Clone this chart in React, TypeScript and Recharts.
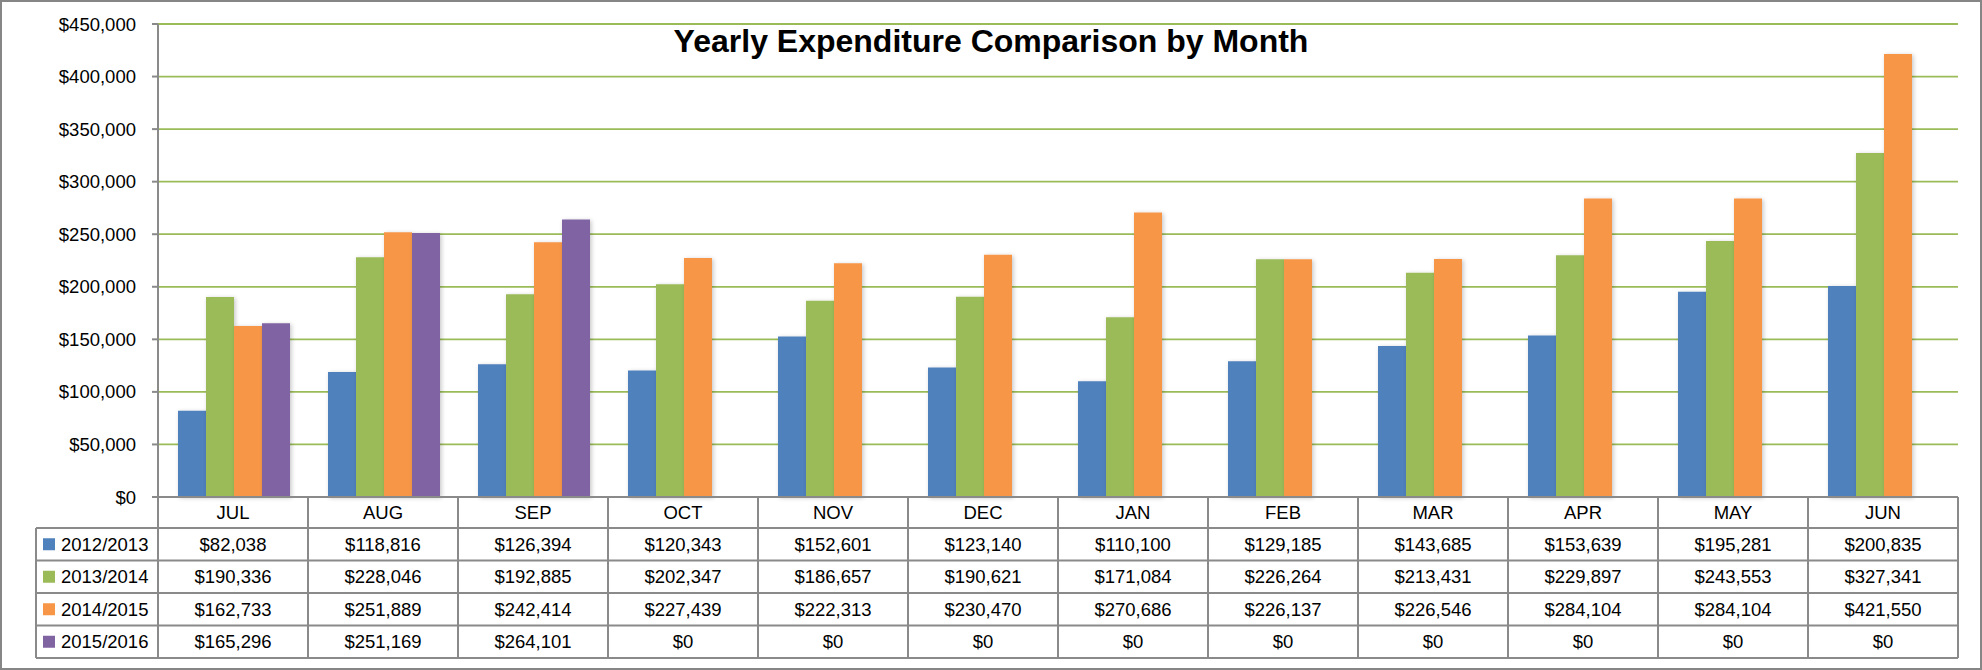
import React from "react";
import { BarChart, Bar, XAxis, YAxis, CartesianGrid } from "recharts";

// financial-year months and the four years being compared
const months = ["JUL", "AUG", "SEP", "OCT", "NOV", "DEC", "JAN", "FEB", "MAR", "APR", "MAY", "JUN"];
const seriesNames = ["2012/2013", "2013/2014", "2014/2015", "2015/2016"];
const seriesKeys = ["fy1213", "fy1314", "fy1415", "fy1516"];
const seriesColors = ["#4F81BD", "#9BBB59", "#F79646", "#8064A2"];

const fy1213 = [82038, 118816, 126394, 120343, 152601, 123140, 110100, 129185, 143685, 153639, 195281, 200835];
const fy1314 = [190336, 228046, 192885, 202347, 186657, 190621, 171084, 226264, 213431, 229897, 243553, 327341];
const fy1415 = [162733, 251889, 242414, 227439, 222313, 230470, 270686, 226137, 226546, 284104, 284104, 421550];
const fy1516 = [165296, 251169, 264101, 0, 0, 0, 0, 0, 0, 0, 0, 0];

const yTicks = [0, 50000, 100000, 150000, 200000, 250000, 300000, 350000, 400000, 450000];

const seriesValues = [fy1213, fy1314, fy1415, fy1516];
const data = months.map((month, i) => {
  const row: Record<string, string | number> = { month };
  seriesKeys.forEach((k, s) => (row[k] = seriesValues[s][i]));
  return row;
});

const WIDTH = 1982;
const HEIGHT = 670;
const PLOT_LEFT = 158;
const PLOT_RIGHT = 1958;
const X_AXIS_H = 173;
const COL_W = (PLOT_RIGHT - PLOT_LEFT) / months.length;
const CAT_ROW_H = 31;
const ROW_H = 32.5;
const LEGEND_W = 122;
const GRID = "#9BBB59";
const LINE = "#8a8a8a";
const FONT = "'Liberation Sans', Arial, sans-serif";
const FS = 18.5;

const money = (v: number) => "$" + v.toLocaleString("en-US");

// draws one column of the data table under each month tick
function TableColumn(props: any) {
  const { x, y, payload, index } = props;
  const half = COL_W / 2;
  const left = x - half;
  const right = x + half;
  const bodyTop = y + CAT_ROW_H;
  const bottom = bodyTop + ROW_H * seriesNames.length;
  const i = index as number;

  return (
    <g>
      <text x={x} y={y + CAT_ROW_H / 2} textAnchor="middle" dominantBaseline="central" fontSize={FS} fill="#000" fontFamily={FONT}>
        {payload.value}
      </text>
      {seriesNames.map((_, s) => (
        <g key={s}>
          <line x1={left} x2={right} y1={bodyTop + ROW_H * s} y2={bodyTop + ROW_H * s} stroke={LINE} strokeWidth={2} />
          <text x={x} y={bodyTop + ROW_H * (s + 0.5)} textAnchor="middle" dominantBaseline="central" fontSize={FS} fill="#000" fontFamily={FONT}>
            {money(seriesValues[s][i])}
          </text>
        </g>
      ))}
      <line x1={left} x2={right} y1={bottom} y2={bottom} stroke={LINE} strokeWidth={2} />
      <line x1={left} x2={left} y1={y} y2={bottom} stroke={LINE} strokeWidth={2} />
      <line x1={right} x2={right} y1={y} y2={bottom} stroke={LINE} strokeWidth={2} />
      {i === 0 && (
        <g>
          <line x1={left - LEGEND_W} x2={left - LEGEND_W} y1={bodyTop} y2={bottom} stroke={LINE} strokeWidth={2} />
          {seriesNames.map((name, s) => (
            <g key={name}>
              <line x1={left - LEGEND_W} x2={left} y1={bodyTop + ROW_H * s} y2={bodyTop + ROW_H * s} stroke={LINE} strokeWidth={2} />
              <rect x={left - LEGEND_W + 7} y={bodyTop + ROW_H * (s + 0.5) - 6} width={12} height={12} fill={seriesColors[s]} />
              <text x={left - LEGEND_W + 25} y={bodyTop + ROW_H * (s + 0.5)} dominantBaseline="central" fontSize={FS} fill="#000" fontFamily={FONT}>
                {name}
              </text>
            </g>
          ))}
          <line x1={left - LEGEND_W} x2={left} y1={bottom} y2={bottom} stroke={LINE} strokeWidth={2} />
        </g>
      )}
    </g>
  );
}

export default function App() {
  return (
    <div style={{ position: "fixed", left: 0, top: 0, width: WIDTH, height: HEIGHT, background: "#fff", fontFamily: FONT }}>
      <BarChart
        width={WIDTH}
        height={HEIGHT}
        data={data}
        margin={{ top: 24, right: WIDTH - PLOT_RIGHT, left: 0, bottom: 0 }}
        barCategoryGap={20}
        barGap={0}
      >
        <defs>
          <filter id="barShadow" x="-50%" y="-10%" width="200%" height="120%">
            <feDropShadow dx={1.5} dy={1} stdDeviation={2} floodColor="#000" floodOpacity={0.22} />
          </filter>
        </defs>
        <CartesianGrid vertical={false} stroke={GRID} strokeWidth={1.8} />
        <XAxis
          dataKey="month"
          height={X_AXIS_H}
          interval={0}
          tickSize={0}
          tickMargin={0}
          tickLine={false}
          axisLine={{ stroke: LINE, strokeWidth: 2 }}
          tick={(p: any) => <TableColumn {...p} />}
        />
        <YAxis
          width={PLOT_LEFT}
          domain={[0, 450000]}
          ticks={yTicks}
          interval={0}
          tickSize={6}
          tickMargin={16}
          tickFormatter={(v: number) => money(v)}
          axisLine={{ stroke: LINE, strokeWidth: 2 }}
          tickLine={{ stroke: LINE, strokeWidth: 2 }}
          tick={{ fill: "#000", fontSize: FS, fontFamily: FONT }}
        />
        {seriesKeys.map((k, s) => (
          <Bar key={k} dataKey={k} name={seriesNames[s]} fill={seriesColors[s]} filter="url(#barShadow)" isAnimationActive={false} />
        ))}
      </BarChart>
      <div
        style={{
          position: "absolute",
          left: 0,
          top: 25,
          width: WIDTH,
          textAlign: "center",
          fontSize: 32,
          lineHeight: "32px",
          fontWeight: "bold",
          color: "#000",
        }}
      >
        Yearly Expenditure Comparison by Month
      </div>
      <div
        style={{
          position: "absolute",
          left: 0,
          top: 0,
          width: WIDTH,
          height: HEIGHT,
          boxSizing: "border-box",
          border: "2px solid #868686",
          pointerEvents: "none",
        }}
      />
    </div>
  );
}
